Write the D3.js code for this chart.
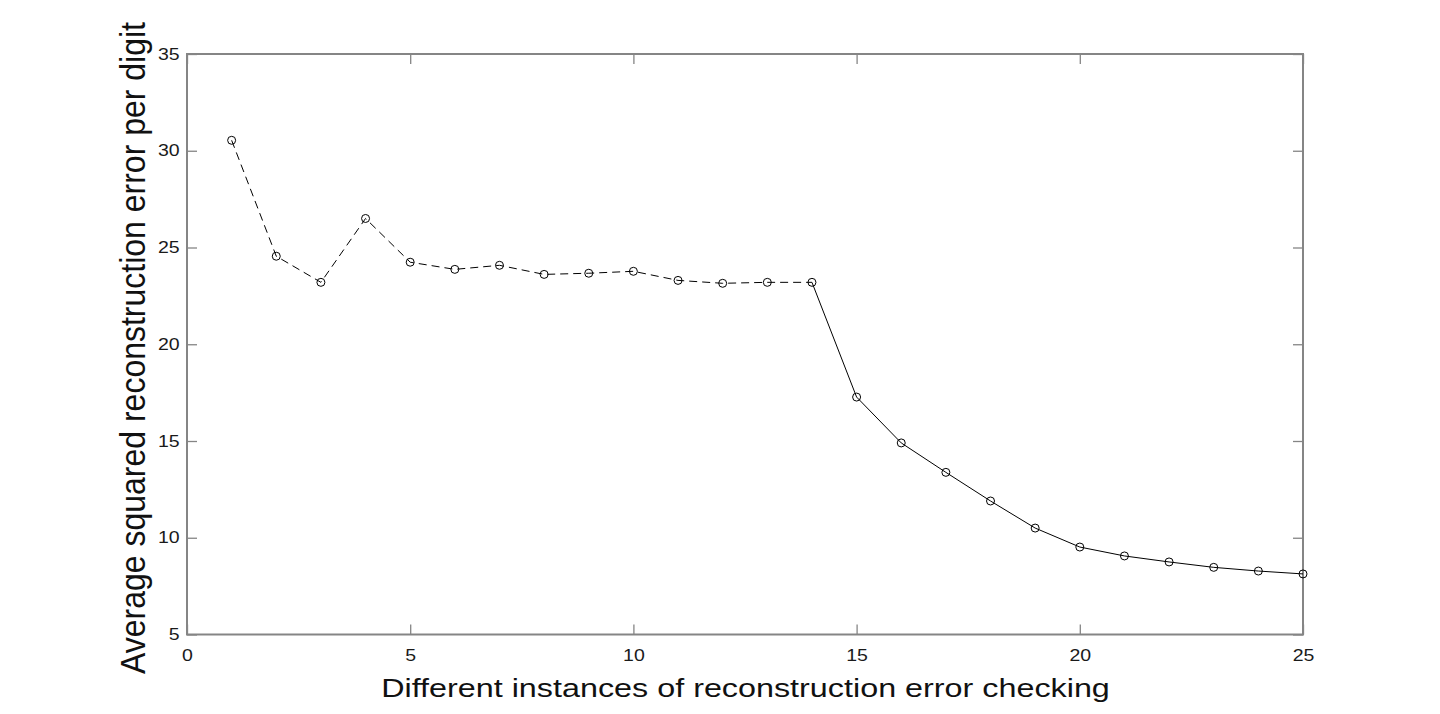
<!DOCTYPE html>
<html>
<head>
<meta charset="utf-8">
<script src="https://cdn.jsdelivr.net/npm/d3@7"></script>
<style>
  html, body { margin: 0; padding: 0; background: #fff; }
  svg { display: block; }
  text { font-family: "Liberation Sans", Arial, Helvetica, sans-serif; }
</style>
</head>
<body>
<svg id="chart" width="1440" height="714"></svg>
<script>
// ---- data ----
const instances = [1,2,3,4,5,6,7,8,9,10,11,12,13,14,15,16,17,18,19,20,21,22,23,24,25];
const errorValues = [30.54, 24.55, 23.2, 26.5, 24.24, 23.87, 24.08, 23.61, 23.67, 23.77,
                     23.3, 23.15, 23.2, 23.2, 17.27, 14.9, 13.38, 11.9, 10.5, 9.52,
                     9.06, 8.75, 8.47, 8.28, 8.13];
const dashedUntil = 14; // instances 1..14 joined by a dashed line, 14..25 solid
const xTicks = [0, 5, 10, 15, 20, 25];
const yTicks = [5, 10, 15, 20, 25, 30, 35];
const xLabel = "Different instances of reconstruction error checking";
const yLabel = "Average squared reconstruction error per digit";

// ---- layout ----
const plotLeft = 187, plotRight = 1303, plotTop = 54, plotBottom = 634.5;
const sx = 1.22; // horizontal text stretch of the reference

const svg = d3.select("#chart");
const x = d3.scaleLinear().domain([0, 25]).range([plotLeft, plotRight]);
const y = d3.scaleLinear().domain([5, 35]).range([plotBottom, plotTop]);

const axisColor = "#858585";

function styleAxis(g) {
  g.select(".domain").remove();
  g.selectAll(".tick line").attr("stroke", axisColor).attr("stroke-width", 1.3);
  g.selectAll(".tick text")
    .attr("fill", "#1a1a1a")
    .style("font-size", "16px")
    .style("font-family", '"Liberation Sans", Arial, sans-serif');
}

// bottom axis
const gx = svg.append("g").attr("transform", `translate(0,${plotBottom})`)
  .call(d3.axisBottom(x).tickValues(xTicks).tickSizeInner(-10).tickSizeOuter(0).tickPadding(15).tickFormat(d3.format("d")));
styleAxis(gx);
gx.selectAll(".tick text").attr("transform", `scale(${sx},1)`);
// top axis (ticks only)
const gxt = svg.append("g").attr("transform", `translate(0,${plotTop})`)
  .call(d3.axisTop(x).tickValues(xTicks).tickSizeInner(-10).tickSizeOuter(0).tickFormat(""));
styleAxis(gxt);
gxt.selectAll(".tick text").remove();

// left axis
const gy = svg.append("g").attr("transform", `translate(${plotLeft},0)`)
  .call(d3.axisLeft(y).tickValues(yTicks).tickSizeInner(-10).tickSizeOuter(0).tickPadding(6).tickFormat(d3.format("d")));
styleAxis(gy);
gy.selectAll(".tick text").attr("transform", `scale(${sx},1)`);
// right axis (ticks only)
const gyr = svg.append("g").attr("transform", `translate(${plotRight},0)`)
  .call(d3.axisRight(y).tickValues(yTicks).tickSizeInner(-10).tickSizeOuter(0).tickFormat(""));
styleAxis(gyr);
gyr.selectAll(".tick text").remove();

// box
svg.append("rect")
  .attr("x", x(0)).attr("y", y(35))
  .attr("width", x(25) - x(0)).attr("height", y(5) - y(35))
  .attr("fill", "none").attr("stroke", axisColor).attr("stroke-width", 2);

// data
const pts = instances.map((d, i) => ({ x: d, y: errorValues[i] }));
const line = d3.line().x(d => x(d.x)).y(d => y(d.y));

svg.append("path")
  .datum(pts.filter(d => d.x <= dashedUntil))
  .attr("d", line)
  .attr("fill", "none").attr("stroke", "#000").attr("stroke-width", 1)
  .attr("stroke-dasharray", "8,5");

svg.append("path")
  .datum(pts.filter(d => d.x >= dashedUntil))
  .attr("d", line)
  .attr("fill", "none").attr("stroke", "#000").attr("stroke-width", 1);

svg.append("g").selectAll("circle").data(pts).join("circle")
  .attr("cx", d => x(d.x)).attr("cy", d => y(d.y)).attr("r", 4)
  .attr("fill", "none").attr("stroke", "#000").attr("stroke-width", 1);

// axis labels
svg.append("text")
  .attr("transform", `translate(${(plotLeft + plotRight) / 2 + 0.5},697) scale(${sx},1)`)
  .attr("text-anchor", "middle")
  .style("font-size", "26.5px")
  .attr("fill", "#111")
  .text(xLabel);

svg.append("text")
  .attr("transform", `translate(145,348) rotate(-90) scale(1,1.1)`)
  .attr("text-anchor", "middle")
  .style("font-size", "32px")
  .attr("fill", "#111")
  .text(yLabel);
</script>
</body>
</html>
